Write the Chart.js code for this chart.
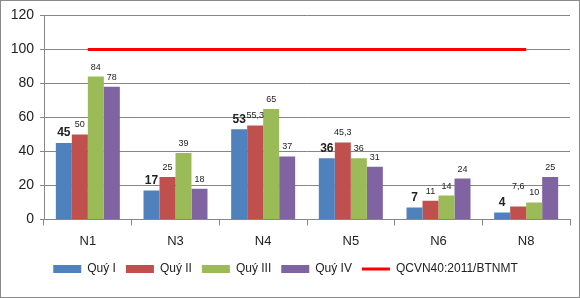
<!DOCTYPE html>
<html>
<head>
<meta charset="utf-8">
<script src="https://cdn.jsdelivr.net/npm/chart.js@4.4.1/dist/chart.umd.min.js"></script>
<style>
  html, body { margin: 0; padding: 0; background: #fff; }
  #frame { width: 580px; height: 298px; box-sizing: border-box; border: 1px solid #8a8a8a; }
  #frame canvas { display: block; }
</style>
</head>
<body>
<div id="frame"><canvas id="chart" width="578" height="296"></canvas></div>
<script>
const categories = ['N1', 'N3', 'N4', 'N5', 'N6', 'N8'];
const quy1 = [45, 17, 53, 36, 7, 4];
const quy2 = [50, 25, 55.3, 45.3, 11, 7.6];
const quy3 = [84, 39, 65, 36, 14, 10];
const quy4 = [78, 18, 37, 31, 24, 25];
const limit = [100, 100, 100, 100, 100, 100];
const seriesNames = ['Quý I', 'Quý II', 'Quý III', 'Quý IV', 'QCVN40:2011/BTNMT'];
const yTicks = [0, 20, 40, 60, 80, 100, 120];

const COLORS = ['#4f81bd', '#c0504d', '#9bbb59', '#8064a2'];
const FONT = "'Liberation Sans', Arial, sans-serif";

// numbers above bars, first series larger and bold like the original
const valueLabels = {
  id: 'valueLabels',
  afterDatasetsDraw(chart) {
    const { ctx } = chart;
    ctx.save();
    ctx.textAlign = 'center';
    ctx.textBaseline = 'bottom';
    ctx.fillStyle = '#222';
    chart.data.datasets.forEach((ds, i) => {
      if (ds.type === 'line') return;
      const meta = chart.getDatasetMeta(i);
      ctx.font = i === 0 ? `bold 12px ${FONT}` : `9px ${FONT}`;
      meta.data.forEach((bar, j) => {
        const txt = String(ds.data[j]).replace('.', ',');
        // the 7,6 label sits higher in the original
        const lift = (i === 1 && j === 5) ? 10 : 0;
        ctx.fillText(txt, bar.x, bar.y - (i === 0 ? 4 : 5) - lift);
      });
    });
    ctx.restore();
  },
};

const barSet = (label, data, color) => ({
  label, data,
  backgroundColor: color,
  borderWidth: 0,
  barPercentage: 1,
  categoryPercentage: 0.73,
  order: 2,
});

new Chart(document.getElementById('chart').getContext('2d'), {
  type: 'bar',
  plugins: [valueLabels],
  data: {
    labels: categories,
    datasets: [
      barSet(seriesNames[0], quy1, COLORS[0]),
      barSet(seriesNames[1], quy2, COLORS[1]),
      barSet(seriesNames[2], quy3, COLORS[2]),
      barSet(seriesNames[3], quy4, COLORS[3]),
      {
        type: 'line',
        label: seriesNames[4],
        data: limit,
        borderColor: '#ff0000',
        backgroundColor: '#ff0000',
        borderWidth: 3,
        pointRadius: 0,
        order: 1,
      },
    ],
  },
  options: {
    responsive: false,
    animation: false,
    layout: { padding: { top: 8, right: 9, bottom: 12, left: 0 } },
    scales: {
      x: {
        afterFit: axis => { axis.height -= 4; },
        grid: { drawOnChartArea: false, tickLength: 6, color: '#868686' },
        border: { color: '#868686' },
        ticks: { color: '#222', font: { family: FONT, size: 13 }, padding: 8 },
      },
      y: {
        min: 0, max: 120,
        afterBuildTicks: axis => { axis.ticks = yTicks.map(v => ({ value: v })); },
        afterFit: axis => { axis.width = 43; },
        grid: { color: '#868686', tickLength: 4 },
        border: { color: '#868686' },
        ticks: { color: '#222', font: { family: FONT, size: 14 }, padding: 6 },
      },
    },
    plugins: {
      tooltip: { enabled: false },
      legend: {
        position: 'bottom',
        labels: {
          usePointStyle: true,
          pointStyleWidth: 28,
          boxHeight: 8,
          padding: 10,
          color: '#222',
          font: { family: FONT, size: 12 },
          sort: (a, b) => a.datasetIndex - b.datasetIndex,
          generateLabels: chart => Chart.defaults.plugins.legend.labels.generateLabels(chart).map(item => {
            const isLine = item.datasetIndex === 4;
            return {
              ...item,
              pointStyle: isLine ? 'line' : 'rect',
              strokeStyle: isLine ? '#ff0000' : item.fillStyle,
              lineWidth: isLine ? 3 : 0,
            };
          }),
        },
      },
    },
  },
});
</script>
</body>
</html>
